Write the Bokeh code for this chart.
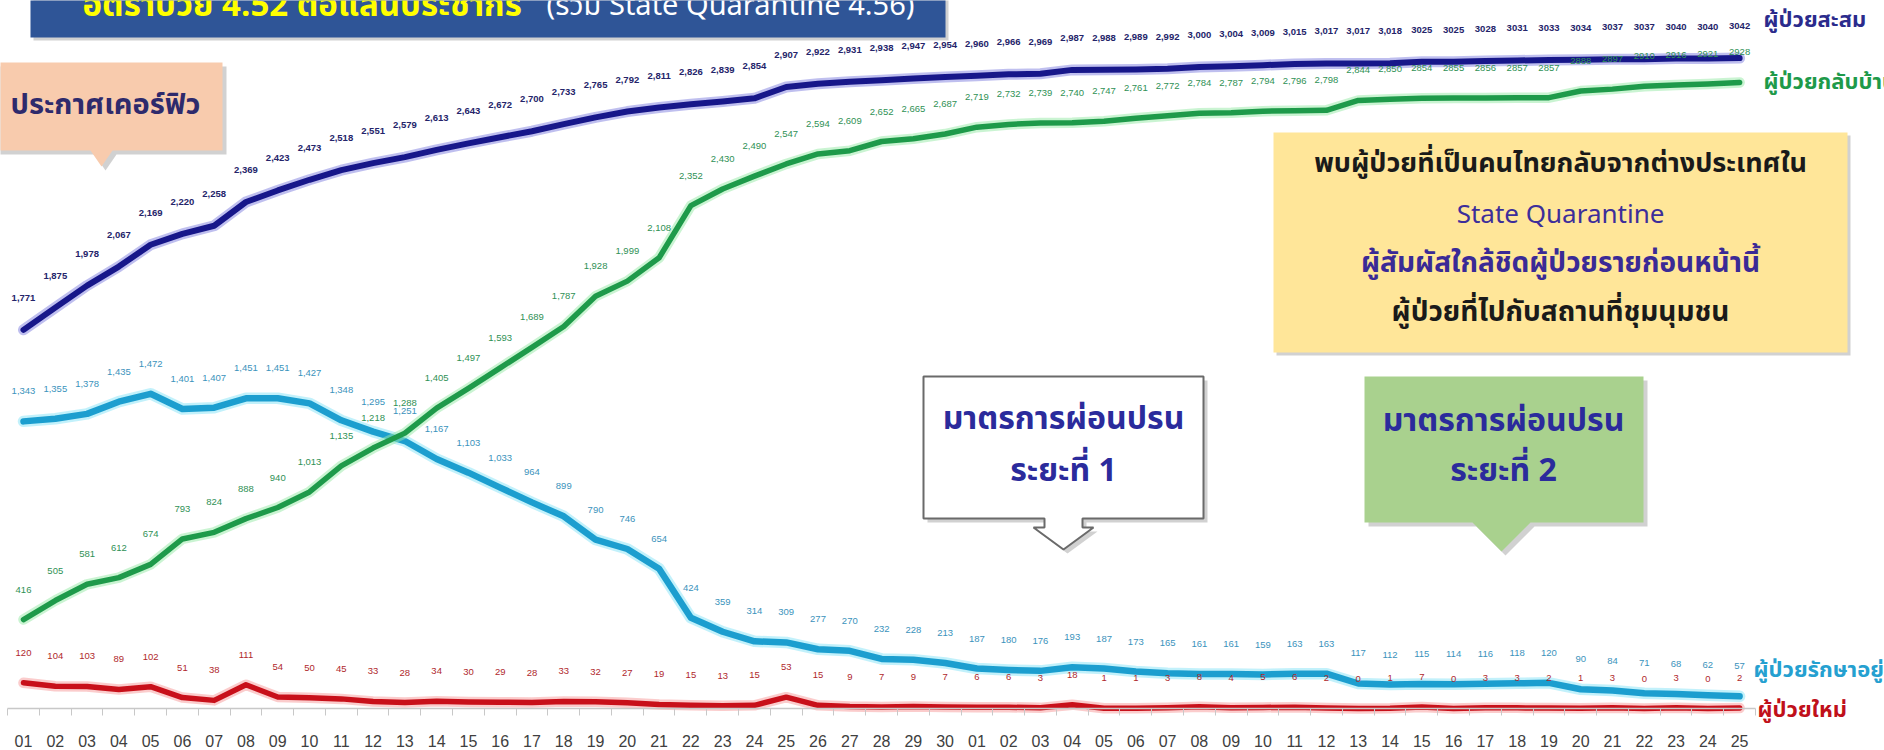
from bokeh.plotting import figure
from bokeh.models import Range1d, LinearAxis, FixedTicker
from bokeh.core.properties import value
from bokeh.embed import file_html
from bokeh.resources import INLINE

# ---------------- data ----------------
day_labels = ["01", "02", "03", "04", "05", "06", "07", "08", "09", "10",
              "11", "12", "13", "14", "15", "16", "17", "18", "19", "20",
              "21", "22", "23", "24", "25", "26", "27", "28", "29", "30",
              "01", "02", "03", "04", "05", "06", "07", "08", "09", "10",
              "11", "12", "13", "14", "15", "16", "17", "18", "19", "20",
              "21", "22", "23", "24", "25"]

cumulative = [1771, 1875, 1978, 2067, 2169, 2220, 2258, 2369, 2423, 2473,
              2518, 2551, 2579, 2613, 2643, 2672, 2700, 2733, 2765, 2792,
              2811, 2826, 2839, 2854, 2907, 2922, 2931, 2938, 2947, 2954,
              2960, 2966, 2969, 2987, 2988, 2989, 2992, 3000, 3004, 3009,
              3015, 3017, 3017, 3018, 3025, 3025, 3028, 3031, 3033, 3034,
              3037, 3037, 3040, 3040, 3042]

recovered = [416, 505, 581, 612, 674, 793, 824, 888, 940, 1013,
             1135, 1218, 1288, 1405, 1497, 1593, 1689, 1787, 1928, 1999,
             2108, 2352, 2430, 2490, 2547, 2594, 2609, 2652, 2665, 2687,
             2719, 2732, 2739, 2740, 2747, 2761, 2772, 2784, 2787, 2794,
             2796, 2798, 2844, 2850, 2854, 2855, 2856, 2857, 2857, 2888,
             2897, 2910, 2916, 2921, 2928]

active = [1343, 1355, 1378, 1435, 1472, 1401, 1407, 1451, 1451, 1427,
          1348, 1295, 1251, 1167, 1103, 1033, 964, 899, 790, 746,
          654, 424, 359, 314, 309, 277, 270, 232, 228, 213,
          187, 180, 176, 193, 187, 173, 165, 161, 161, 159,
          163, 163, 117, 112, 115, 114, 116, 118, 120, 90,
          84, 71, 68, 62, 57]

new_cases = [120, 104, 103, 89, 102, 51, 38, 111, 54, 50,
             45, 33, 28, 34, 30, 29, 28, 33, 32, 27,
             19, 15, 13, 15, 53, 15, 9, 7, 9, 7,
             6, 6, 3, 18, 1, 1, 3, 8, 4, 5,
             6, 2, 0, 1, 7, 0, 3, 3, 2, 1,
             3, 0, 3, 0, 2]

series_names = ["ผู้ป่วยสะสม", "ผู้ป่วยกลับบ้าน", "ผู้ป่วยรักษาอยู่", "ผู้ป่วยใหม่"]

title_yellow = "อัตราป่วย 4.52 ต่อแสนประชากร"
title_white = "(รวม State Quarantine 4.56)"
curfew_text = "ประกาศเคอร์ฟิว"
phase1_text = ["มาตรการผ่อนปรน", "ระยะที่ 1"]
phase2_text = ["มาตรการผ่อนปรน", "ระยะที่ 2"]
yellow_lines = ["พบผู้ป่วยที่เป็นคนไทยกลับจากต่างประเทศใน",
                "State Quarantine",
                "ผู้สัมผัสใกล้ชิดผู้ป่วยรายก่อนหน้านี้",
                "ผู้ป่วยที่ไปกับสถานที่ชุมนุมชน"]

# ---------------- layout ----------------
W, H = 1884, 750
PX = 31.78           # pixels per day
X0 = 23              # canvas px of first day
Y0 = 708             # canvas px of value 0
PXV = 0.2138         # pixels per case
x_start = -X0 / PX
x_end = x_start + W / PX
y_start = -(H - Y0) / PXV
y_end = Y0 / PXV

THAI = "Noto Sans Thai, Noto Sans Thai UI, Tahoma, Noto Sans, sans-serif"
NUMF = "Liberation Sans"


def dx(ax):
    return x_start + ax / PX


def dy(ay):
    return (Y0 - ay) / PXV


p = figure(width=W, height=H, x_range=Range1d(x_start, x_end), y_range=Range1d(y_start, y_end),
           x_axis_location=None, y_axis_location=None, toolbar_location=None,
           output_backend="svg", min_border=0)
p.outline_line_color = None
p.background_fill_color = "white"
p.border_fill_color = "white"
for g in p.grid:
    g.visible = False

idx = list(range(len(day_labels)))

xaxis = LinearAxis(ticker=FixedTicker(ticks=idx, minor_ticks=[i - 0.5 for i in idx] + [idx[-1] + 0.5]),
                   fixed_location=0)
xaxis.major_label_overrides = {i: lab for i, lab in zip(idx, day_labels)}
xaxis.bounds = (-0.5, idx[-1] + 0.5)
xaxis.major_tick_line_color = None
xaxis.major_tick_out = 0
xaxis.major_tick_in = 0
xaxis.minor_tick_line_color = "#C8C8C8"
xaxis.minor_tick_out = 7
xaxis.minor_tick_in = 0
xaxis.axis_line_color = "#C8C8C8"
xaxis.axis_line_width = 1.5
xaxis.major_label_text_font = NUMF
xaxis.major_label_text_font_size = "16px"
xaxis.major_label_text_color = "#404040"
xaxis.major_label_standoff = 19
p.add_layout(xaxis, "below")

# ---------------- annotation shapes ----------------
def poly(pts, **kw):
    p.patch([dx(a) for a, b in pts], [dy(b) for a, b in pts], **kw)


def shadow(pts, off=4):
    poly([(a + off, b + off) for a, b in pts], fill_color="#9A9A9A", fill_alpha=0.45, line_color=None)


# title banner
title_pts = [(30, -5), (945, -5), (945, 37), (30, 37)]
shadow(title_pts, 3)
poly(title_pts, fill_color="#2F5597", line_color=None)
p.text([dx(82)], [dy(5)], text=[title_yellow], text_font=value(THAI), text_font_size="33px",
       text_font_style="bold", text_color="#FFFF00", text_baseline="alphabetic", text_align="left")
p.text([dx(546)], [dy(5)], text=[title_white], text_font=value(THAI), text_font_size="29px",
       text_color="#FFFFFF", text_baseline="alphabetic", text_align="left")

# curfew callout
curfew_pts = [(-5, 62), (222, 62), (222, 150), (112, 150), (101, 166), (90, 150), (-5, 150)]
shadow(curfew_pts)
poly(curfew_pts, fill_color="#F8CBAD", line_color=None)
p.text([dx(10)], [dy(104)], text=[curfew_text], text_font=value(THAI), text_font_size="29px",
       text_font_style="bold", text_color="#2E2A6C", text_baseline="middle", text_align="left")

# yellow box
yel_pts = [(1273, 132), (1847, 132), (1847, 352), (1273, 352)]
shadow(yel_pts, 3)
poly(yel_pts, fill_color="#FFE699", line_color=None)
yl_colors = ["#1A1A1A", "#3D2E9A", "#3A2A96", "#1A1A1A"]
yl_styles = ["bold", "normal", "bold", "bold"]
yl_sizes = ["27px", "26px", "28px", "28px"]
yl_y = [163, 214, 263, 312]
for t, c, s, fs, yy in zip(yellow_lines, yl_colors, yl_styles, yl_sizes, yl_y):
    p.text([dx(1560)], [dy(yy)], text=[t], text_font=value(THAI), text_font_size=fs,
           text_font_style=s, text_color=c, text_baseline="middle", text_align="center")

# phase 1 callout (white with arrow)
ph1_pts = [(923, 376), (1203, 376), (1203, 518), (1082, 518), (1082, 527), (1093, 527),
           (1063, 549), (1033, 527), (1044, 527), (1044, 518), (923, 518)]
shadow(ph1_pts)
poly(ph1_pts, fill_color="#FFFFFF", line_color="#6A6A6A", line_width=2)
for t, yy in zip(phase1_text, [418, 470]):
    p.text([dx(1063)], [dy(yy)], text=[t], text_font=value(THAI), text_font_size="32px",
           text_font_style="bold", text_color="#2B2B9C", text_baseline="middle", text_align="center")

# phase 2 callout (green)
ph2_pts = [(1364, 376), (1643, 376), (1643, 522), (1530, 522), (1501, 551), (1472, 522), (1364, 522)]
shadow(ph2_pts)
poly(ph2_pts, fill_color="#A9D18E", line_color=None)
for t, yy in zip(phase2_text, [420, 470]):
    p.text([dx(1503)], [dy(yy)], text=[t], text_font=value(THAI), text_font_size="32px",
           text_font_style="bold", text_color="#2B2B9C", text_baseline="middle", text_align="center")

# ---------------- series ----------------
styles = [
    # values, line colour, halo colour, width, label colour, label y offset, label weight
    (new_cases, "#C8101A", "#F79A9A", 5.5, "#B0282C", -30, "normal"),
    (active, "#1C9ECF", "#86E3F8", 6.5, "#3B93BC", -30, "normal"),
    (recovered, "#1E9A4A", "#96EAA6", 5.5, "#2F9155", -30, "normal"),
    (cumulative, "#17178A", "#8080E0", 6, "#24246A", -32, "bold"),
]

for vals, col, halo, lw, lc, off, fw in styles:
    p.line(idx, vals, line_color=halo, line_width=lw + 5, line_alpha=0.5, line_join="round", line_cap="round")
    p.line(idx, vals, line_color=col, line_width=lw, line_join="round", line_cap="round")


def fmt(v, i):
    return f"{v:,}" if i < 44 else str(v)


for vals, col, halo, lw, lc, off, fw in styles:
    p.text(idx, vals, text=[fmt(v, i) for i, v in enumerate(vals)], y_offset=off,
           text_font=value(NUMF), text_font_size="9.5px", text_color=lc, text_font_style=fw,
           text_align="center", text_baseline="middle")

# series name labels at the line ends
end_styles = [
    (cumulative, "#2B2B8C", 24, -38, "22px"),
    (recovered, "#1E9A4A", 24, 0, "22px"),
    (active, "#25A0D0", 14, -26, "22px"),
    (new_cases, "#C0101A", 18, 2, "22px"),
]
for name, (vals, c, xo, yo, fs) in zip(series_names, end_styles):
    p.text([idx[-1]], [vals[-1]], text=[name], x_offset=xo, y_offset=yo,
           text_font=value(THAI), text_font_size=fs, text_font_style="bold",
           text_color=c, text_align="left", text_baseline="middle")

open("out.html", "w").write(file_html(p, INLINE))
